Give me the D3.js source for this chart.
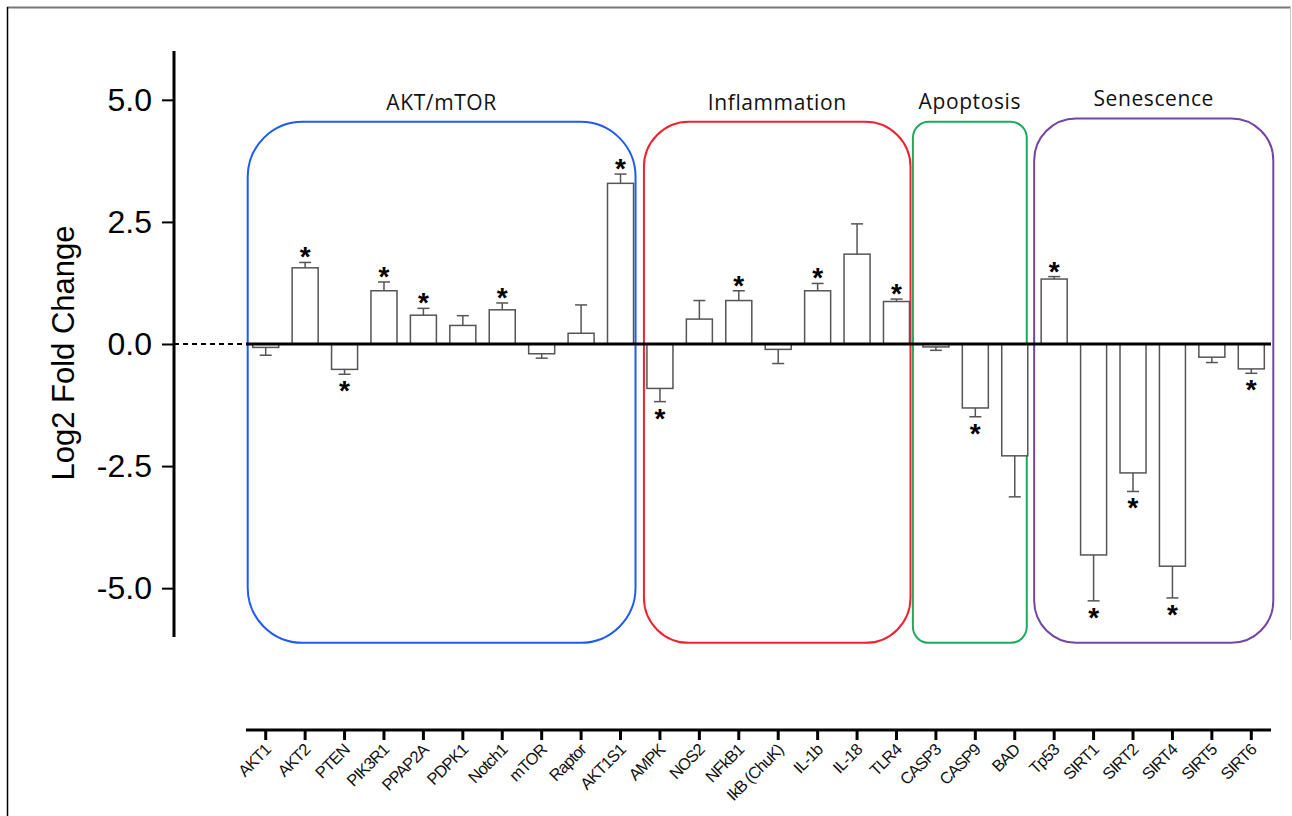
<!DOCTYPE html>
<html lang="en">
<head>
<meta charset="UTF-8">
<title>Log2 fold change</title>
<script src="https://cdn.jsdelivr.net/npm/d3@7/dist/d3.min.js"></script>
<style>
  body { margin: 0; background: #fff; }
  svg { display: block; }
</style>
</head>
<body>
<svg width="1292" height="816"></svg>
<script>

    // data
    var genes = ["AKT1", "AKT2", "PTEN", "PIK3R1", "PPAP2A", "PDPK1", "Notch1", "mTOR", "Raptor", "AKT1S1",
                 "AMPK", "NOS2", "NFkB1", "IkB (ChuK)", "IL-1b", "IL-18", "TLR4",
                 "CASP3", "CASP9", "BAD",
                 "Tp53", "SIRT1", "SIRT2", "SIRT4", "SIRT5", "SIRT6"];
    var values = [-0.07, 1.56, -0.52, 1.09, 0.59, 0.38, 0.70, -0.20, 0.22, 3.29,
                  -0.91, 0.51, 0.89, -0.11, 1.09, 1.84, 0.87,
                  -0.06, -1.31, -2.29,
                  1.33, -4.32, -2.64, -4.55, -0.27, -0.51];
    var errors = [0.16, 0.11, 0.10, 0.18, 0.14, 0.20, 0.14, 0.09, 0.58, 0.19,
                  0.27, 0.38, 0.20, 0.29, 0.15, 0.62, 0.05,
                  0.07, 0.18, 0.84,
                  0.05, 0.94, 0.38, 0.65, 0.11, 0.09];
    var significant = ["AKT2", "PTEN", "PIK3R1", "PPAP2A", "Notch1", "AKT1S1",
                       "AMPK", "NFkB1", "IL-1b", "TLR4", "CASP9",
                       "Tp53", "SIRT1", "SIRT2", "SIRT4", "SIRT6"];

    var groupNames  = ["AKT/mTOR", "Inflammation", "Apoptosis", "Senescence"];
    var groupFirst  = ["AKT1", "AMPK", "CASP3", "Tp53"];
    var groupLast   = ["AKT1S1", "TLR4", "BAD", "SIRT6"];
    var groupColors = ["#1f5bef", "#ef2330", "#1fa95c", "#7545a3"];

    var yTicks = [-5, -2.5, 0, 2.5, 5];

    var svg = d3.select("svg");

    var rows = genes.map(function(g, i) {
        return {gene: g, value: values[i], err: errors[i], star: significant.indexOf(g) >= 0};
    });

    var x = d3.scaleBand()
        .domain(genes)
        .range([246, 1271])
        .paddingInner(0.34)
        .paddingOuter(0.17);

    var y = d3.scaleLinear()
        .domain([-6, 6])
        .range([637, 51]);

    // outer frame
    svg.append("line").attr("x1", 7).attr("x2", 1291).attr("y1", 7.5).attr("y2", 7.5)
        .attr("stroke", "#777").attr("stroke-width", 2);
    svg.append("line").attr("x1", 7.5).attr("x2", 7.5).attr("y1", 7).attr("y2", 816)
        .attr("stroke", "#000").attr("stroke-width", 1.5);
    svg.append("line").attr("x1", 1290.5).attr("x2", 1290.5).attr("y1", 7).attr("y2", 640)
        .attr("stroke", "#ccc").attr("stroke-width", 1);

    // group boxes
    var boxPad = [[5, 2], [3, 1], [10, -1], [7, 9]];
    var boxRadius = [55, 45, 16, 42];
    var boxTop = [y(4.55), y(4.55), y(4.55), y(4.62)];
    var labelY = [110, 110, 109, 106];

    groupNames.forEach(function(name, i) {
        var x0 = x(groupFirst[i]) - boxPad[i][0];
        var x1 = x(groupLast[i]) + x.bandwidth() + boxPad[i][1];
        var top = boxTop[i], bottom = y(-6.12);
        svg.append("rect")
            .attr("x", x0).attr("y", top)
            .attr("width", x1 - x0).attr("height", bottom - top)
            .attr("rx", boxRadius[i]).attr("ry", boxRadius[i])
            .attr("fill", "none")
            .attr("stroke", groupColors[i])
            .attr("stroke-width", 2);
        svg.append("text")
            .attr("x", (x0 + x1) / 2)
            .attr("y", labelY[i])
            .attr("text-anchor", "middle")
            .style("font-family", "'Open Sans', sans-serif")
            .style("font-size", "21px")
            .style("letter-spacing", "0.6px")
            .attr("fill", "#111")
            .text(name);
    });

    // dashed part of the zero line
    svg.append("line")
        .attr("x1", 174).attr("x2", x.range()[0])
        .attr("y1", y(0)).attr("y2", y(0))
        .attr("stroke", "#000").attr("stroke-width", 2)
        .attr("stroke-dasharray", "5,4");

    // bars
    svg.append("g")
        .selectAll("rect")
        .data(rows)
        .enter().append("rect")
        .attr("x", function(d) { return x(d.gene); })
        .attr("y", function(d) { return y(Math.max(0, d.value)); })
        .attr("width", x.bandwidth())
        .attr("height", function(d) { return Math.abs(y(d.value) - y(0)); })
        .attr("fill", "#fff")
        .attr("stroke", "#555")
        .attr("stroke-width", 1.5);

    // error bars (one sided, outward)
    var eb = svg.append("g").attr("stroke", "#555").attr("stroke-width", 1.5);
    rows.forEach(function(d) {
        var cx = x(d.gene) + x.bandwidth() / 2;
        var end = d.value >= 0 ? d.value + d.err : d.value - d.err;
        eb.append("line").attr("x1", cx).attr("x2", cx)
            .attr("y1", y(d.value)).attr("y2", y(end));
        eb.append("line").attr("x1", cx - 6).attr("x2", cx + 6)
            .attr("y1", y(end)).attr("y2", y(end));
    });

    // significance stars
    svg.append("g")
        .selectAll("text")
        .data(rows.filter(function(d) { return d.star; }))
        .enter().append("text")
        .attr("x", function(d) { return x(d.gene) + x.bandwidth() / 2; })
        .attr("y", function(d) {
            return d.value >= 0 ? y(d.value + d.err) + 4 : y(d.value - d.err) + 26;
        })
        .attr("text-anchor", "middle")
        .style("font-family", "'Liberation Sans', Arial, sans-serif")
        .style("font-size", "28px")
        .style("font-weight", "bold")
        .text("*");

    // solid zero line across the bars
    svg.append("line")
        .attr("x1", x.range()[0]).attr("x2", x.range()[1])
        .attr("y1", y(0)).attr("y2", y(0))
        .attr("stroke", "#000").attr("stroke-width", 3);

    // y axis
    var yAxis = svg.append("g")
        .attr("transform", "translate(174,0)")
        .call(d3.axisLeft(y).tickValues(yTicks).tickSize(12).tickPadding(10)
            .tickFormat(function(d) { return d3.format(".1f")(d).replace("\u2212", "-"); }));
    yAxis.select(".domain").remove();
    yAxis.append("line").attr("x1", 0).attr("x2", 0).attr("y1", y(6)).attr("y2", y(-6))
        .attr("stroke", "#000").attr("stroke-width", 3);
    yAxis.selectAll(".tick line").attr("stroke", "#000").attr("stroke-width", 2);
    yAxis.selectAll(".tick text")
        .style("font-family", "'Liberation Sans', Arial, sans-serif")
        .style("font-size", "32px")
        .attr("fill", "#000");

    svg.append("text")
        .attr("transform", "translate(74,353) rotate(-90)")
        .attr("text-anchor", "middle")
        .style("font-family", "'Liberation Sans', Arial, sans-serif")
        .style("font-size", "31px")
        .text("Log2 Fold Change");

    // x axis
    var xAxis = svg.append("g")
        .attr("transform", "translate(0,730)")
        .call(d3.axisBottom(x).tickSize(10).tickSizeOuter(0));
    xAxis.select(".domain").attr("stroke", "#000").attr("stroke-width", 3)
        .attr("d", "M" + x.range()[0] + ",0H" + x.range()[1]);
    xAxis.selectAll(".tick line").attr("stroke", "#000").attr("stroke-width", 3);
    xAxis.selectAll(".tick text")
        .attr("text-anchor", "end")
        .attr("dy", 0)
        .attr("y", 0)
        .attr("transform", "translate(6,21) rotate(-45)")
        .style("font-family", "'Liberation Sans', Arial, sans-serif")
        .style("font-size", "16.5px")
        .style("letter-spacing", "-0.9px")
        .attr("fill", "#111");

</script>
</body>
</html>
